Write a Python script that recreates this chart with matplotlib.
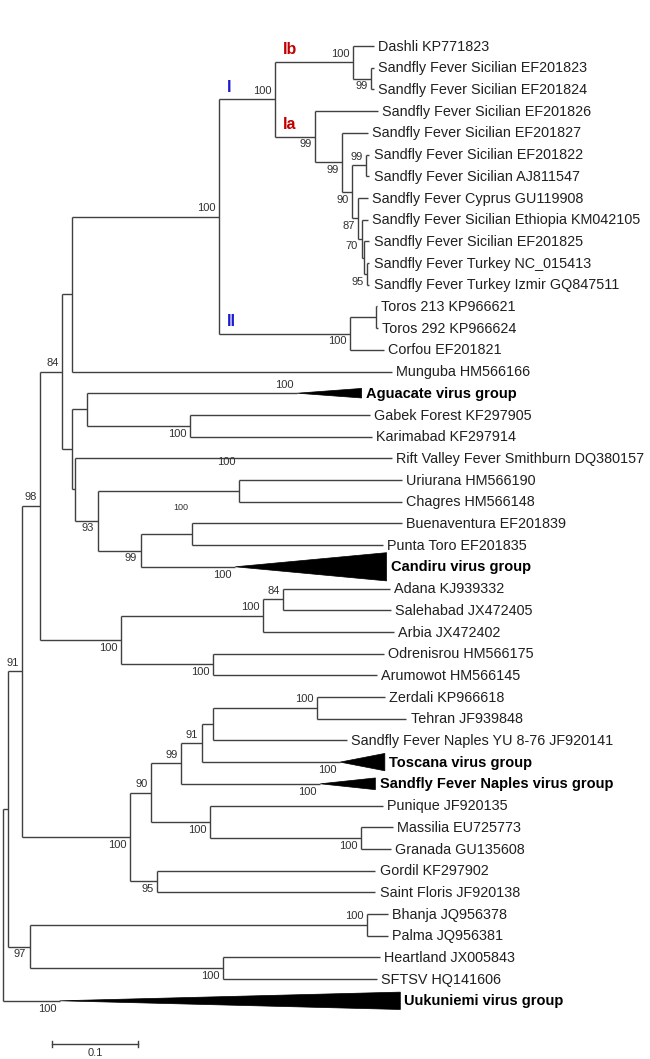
import matplotlib
matplotlib.use("Agg")
import matplotlib.pyplot as plt
from matplotlib.patches import Polygon

plt.rcParams['font.family'] = ['Liberation Sans', 'DejaVu Sans']

# tips in drawing order (top to bottom) and their distance from the root
tip_names = [
    "Dashli KP771823",
    "Sandfly Fever Sicilian EF201823",
    "Sandfly Fever Sicilian EF201824",
    "Sandfly Fever Sicilian EF201826",
    "Sandfly Fever Sicilian EF201827",
    "Sandfly Fever Sicilian EF201822",
    "Sandfly Fever Sicilian AJ811547",
    "Sandfly Fever Cyprus GU119908",
    "Sandfly Fever Sicilian Ethiopia KM042105",
    "Sandfly Fever Sicilian EF201825",
    "Sandfly Fever Turkey NC_015413",
    "Sandfly Fever Turkey Izmir GQ847511",
    "Toros 213 KP966621",
    "Toros 292 KP966624",
    "Corfou EF201821",
    "Munguba HM566166",
    "Aguacate virus group",
    "Gabek Forest KF297905",
    "Karimabad KF297914",
    "Rift Valley Fever Smithburn DQ380157",
    "Uriurana HM566190",
    "Chagres HM566148",
    "Buenaventura EF201839",
    "Punta Toro EF201835",
    "Candiru virus group",
    "Adana KJ939332",
    "Salehabad JX472405",
    "Arbia JX472402",
    "Odrenisrou HM566175",
    "Arumowot HM566145",
    "Zerdali KP966618",
    "Tehran JF939848",
    "Sandfly Fever Naples YU 8-76 JF920141",
    "Toscana virus group",
    "Sandfly Fever Naples virus group",
    "Punique JF920135",
    "Massilia EU725773",
    "Granada GU135608",
    "Gordil KF297902",
    "Saint Floris JF920138",
    "Bhanja JQ956378",
    "Palma JQ956381",
    "Heartland JX005843",
    "SFTSV HQ141606",
    "Uukuniemi virus group",
]
tip_depth = [
    0.431, 0.431, 0.431, 0.436, 0.424, 0.426, 0.426, 0.424, 0.424, 0.426,
    0.426, 0.426, 0.435, 0.436, 0.443, 0.452, 0.417, 0.427, 0.429, 0.452,
    0.464, 0.464, 0.464, 0.442, 0.446, 0.450, 0.451, 0.455, 0.443, 0.435,
    0.444, 0.469, 0.400, 0.444, 0.433, 0.442, 0.453, 0.451, 0.433, 0.433,
    0.448, 0.448, 0.438, 0.435, 0.462,
]

# collapsed subtrees: where the triangle starts (the collapsed node)
group_names = ["Aguacate virus group", "Candiru virus group", "Toscana virus group",
               "Sandfly Fever Naples virus group", "Uukuniemi virus group"]
group_start = [0.342, 0.270, 0.392, 0.369, 0.066]
group_support = [100, 100, 100, 100, 100]

# internal nodes
node_ids = [
    "sic_b_pair", "Ib", "tur", "tur_x", "n70", "n87", "sic_pair", "n90s", "n342",
    "Ia", "I", "toros", "II", "sfsv", "sfsv_mun", "gab", "agu", "uri", "bue",
    "n99b", "n93", "rvf", "n72b", "n84", "ada", "n263", "odr", "n121", "n98",
    "zer", "nap_yu", "n91t", "n99n", "mas", "pun", "n90n", "gor", "n100n",
    "n91", "bha", "hea", "n97", "n8", "root",
]
node_depth = [
    0.428, 0.407, 0.423, 0.420, 0.417, 0.413, 0.422, 0.406, 0.394,
    0.363, 0.316, 0.434, 0.403, 0.251, 0.080, 0.217, 0.098, 0.274, 0.220,
    0.160, 0.110, 0.084, 0.080, 0.069, 0.326, 0.302, 0.244, 0.137, 0.043,
    0.365, 0.244, 0.231, 0.207, 0.416, 0.241, 0.172, 0.179, 0.148,
    0.022, 0.423, 0.256, 0.031, 0.006, 0.0,
]
node_support = [
    99, 100, 95, None, 70, 87, 99, 90, 99,
    99, 100, None, 100, 100, None, 100, None, 100, 100,
    99, 93, None, None, 84, 84, 100, 100, 100, 98,
    100, None, 91, 99, 100, 100, 90, 95, 100,
    91, 100, 100, 97, None, None,
]
node_children = [
    ("Sandfly Fever Sicilian EF201823", "Sandfly Fever Sicilian EF201824"),
    ("Dashli KP771823", "sic_b_pair"),
    ("Sandfly Fever Turkey NC_015413", "Sandfly Fever Turkey Izmir GQ847511"),
    ("Sandfly Fever Sicilian EF201825", "tur"),
    ("Sandfly Fever Sicilian Ethiopia KM042105", "tur_x"),
    ("Sandfly Fever Cyprus GU119908", "n70"),
    ("Sandfly Fever Sicilian EF201822", "Sandfly Fever Sicilian AJ811547"),
    ("sic_pair", "n87"),
    ("Sandfly Fever Sicilian EF201827", "n90s"),
    ("Sandfly Fever Sicilian EF201826", "n342"),
    ("Ib", "Ia"),
    ("Toros 213 KP966621", "Toros 292 KP966624"),
    ("toros", "Corfou EF201821"),
    ("I", "II"),
    ("sfsv", "Munguba HM566166"),
    ("Gabek Forest KF297905", "Karimabad KF297914"),
    ("Aguacate virus group", "gab"),
    ("Uriurana HM566190", "Chagres HM566148"),
    ("Buenaventura EF201839", "Punta Toro EF201835"),
    ("bue", "Candiru virus group"),
    ("uri", "n99b"),
    ("Rift Valley Fever Smithburn DQ380157", "n93"),
    ("agu", "rvf"),
    ("sfsv_mun", "n72b"),
    ("Adana KJ939332", "Salehabad JX472405"),
    ("ada", "Arbia JX472402"),
    ("Odrenisrou HM566175", "Arumowot HM566145"),
    ("n263", "odr"),
    ("n84", "n121"),
    ("Zerdali KP966618", "Tehran JF939848"),
    ("zer", "Sandfly Fever Naples YU 8-76 JF920141"),
    ("nap_yu", "Toscana virus group"),
    ("n91t", "Sandfly Fever Naples virus group"),
    ("Massilia EU725773", "Granada GU135608"),
    ("Punique JF920135", "mas"),
    ("n99n", "pun"),
    ("Gordil KF297902", "Saint Floris JF920138"),
    ("n90n", "gor"),
    ("n98", "n100n"),
    ("Bhanja JQ956378", "Palma JQ956381"),
    ("Heartland JX005843", "SFTSV HQ141606"),
    ("bha", "hea"),
    ("n91", "n97"),
    ("n8", "Uukuniemi virus group"),
]

clade_labels = ["I", "II", "Ib", "Ia"]
scale_length = 0.1

# ---- style ----
LINE = '#404040'
BLUE = '#1c1ccc'
RED = '#c00000'
clade_color = {"I": BLUE, "II": BLUE, "Ib": RED, "Ia": RED}
label_below = {"sic_b_pair", "Ia", "n342", "n90s", "n87", "n70", "tur", "II", "gab",
               "n93", "n99b", "n121", "odr", "n100n", "pun", "mas", "gor", "n97", "hea",
               "Candiru virus group", "Toscana virus group",
               "Sandfly Fever Naples virus group", "Uukuniemi virus group"}
label_lift = {"uri": 14.5, "bue": 13.5}
group_spread = {"Aguacate virus group": 0.22, "Candiru virus group": 0.65,
                "Toscana virus group": 0.40, "Sandfly Fever Naples virus group": 0.27,
                "Uukuniemi virus group": 0.40}

# ---- layout ----
depth = dict(zip(tip_names, tip_depth))
depth.update(zip(node_ids, node_depth))
start = dict(zip(group_names, group_start))
children = dict(zip(node_ids, node_children))
parent = {c: n for n, cs in children.items() for c in cs}
ypos = {name: i for i, name in enumerate(tip_names)}


def place(n):
    if n not in ypos:
        ys = [place(c) for c in children[n]]
        ypos[n] = (ys[0] + ys[-1]) / 2
    return ypos[n]


place("root")

fig = plt.figure(figsize=(6.5, 10.59), dpi=100)
ax = fig.add_axes([0, 0, 1, 1])
ax.set_xlim(-3 / 860, 647 / 860)
ax.set_ylim((1059 - 46) / 21.7, -46 / 21.7)
ax.axis('off')

lw = 1.0
for n, cs in children.items():
    x0 = depth[n]
    ax.plot([x0, x0], [ypos[cs[0]], ypos[cs[-1]]], color=LINE, lw=lw,
            solid_capstyle='butt')
    for c in cs:
        x1 = start.get(c, depth[c])
        ax.plot([x0, x1], [ypos[c], ypos[c]], color=LINE, lw=lw,
                solid_capstyle='butt')

# collapsed groups as triangles
for g in group_names:
    y = ypos[g]
    h = group_spread[g]
    ax.add_patch(Polygon([(start[g], y), (depth[g], y - h), (depth[g], y + h)],
                         closed=True, facecolor='black', edgecolor='black', lw=0.5))

# tip labels
for name in tip_names:
    bold = name in start
    ax.annotate(name, (depth[name], ypos[name]), xytext=(3, -0.5),
                textcoords='offset points', ha='left', va='center',
                fontsize=10.5 if bold else 10.4, fontweight='bold' if bold else 'normal',
                color='black' if bold else '#202020')

# bootstrap values
supports = list(zip(node_ids, node_support)) + list(zip(group_names, group_support))
for n, s in supports:
    if s is None:
        continue
    x = start.get(n, depth[n])
    if n in label_below:
        off, va = (-2.5, -2.0), 'top'
    else:
        off, va = (-2.5, 2.5 + label_lift.get(n, 0)), 'bottom'
    ax.annotate(str(s), (x, ypos[n]), xytext=off, textcoords='offset points',
                ha='right', va=va, fontsize=6.5 if n == "bue" else 8, color='#303030')

# clade names
for c in clade_labels:
    ax.annotate(c, (depth[parent[c]], ypos[c]), xytext=(6, 3.5),
                textcoords='offset points', ha='left', va='bottom',
                fontsize=11.5, fontweight='bold', color=clade_color[c])

# scale bar
sx0 = 0.057
sy = 46.0
ax.plot([sx0, sx0 + scale_length], [sy, sy], color=LINE, lw=lw)
for sx in (sx0, sx0 + scale_length):
    ax.plot([sx, sx], [sy - 0.15, sy + 0.15], color=LINE, lw=lw)
ax.annotate(str(scale_length), (sx0 + scale_length / 2, sy), xytext=(0, -3),
            textcoords='offset points', ha='center', va='top', fontsize=8,
            color='#303030')

fig.savefig('out.png', dpi=100)
